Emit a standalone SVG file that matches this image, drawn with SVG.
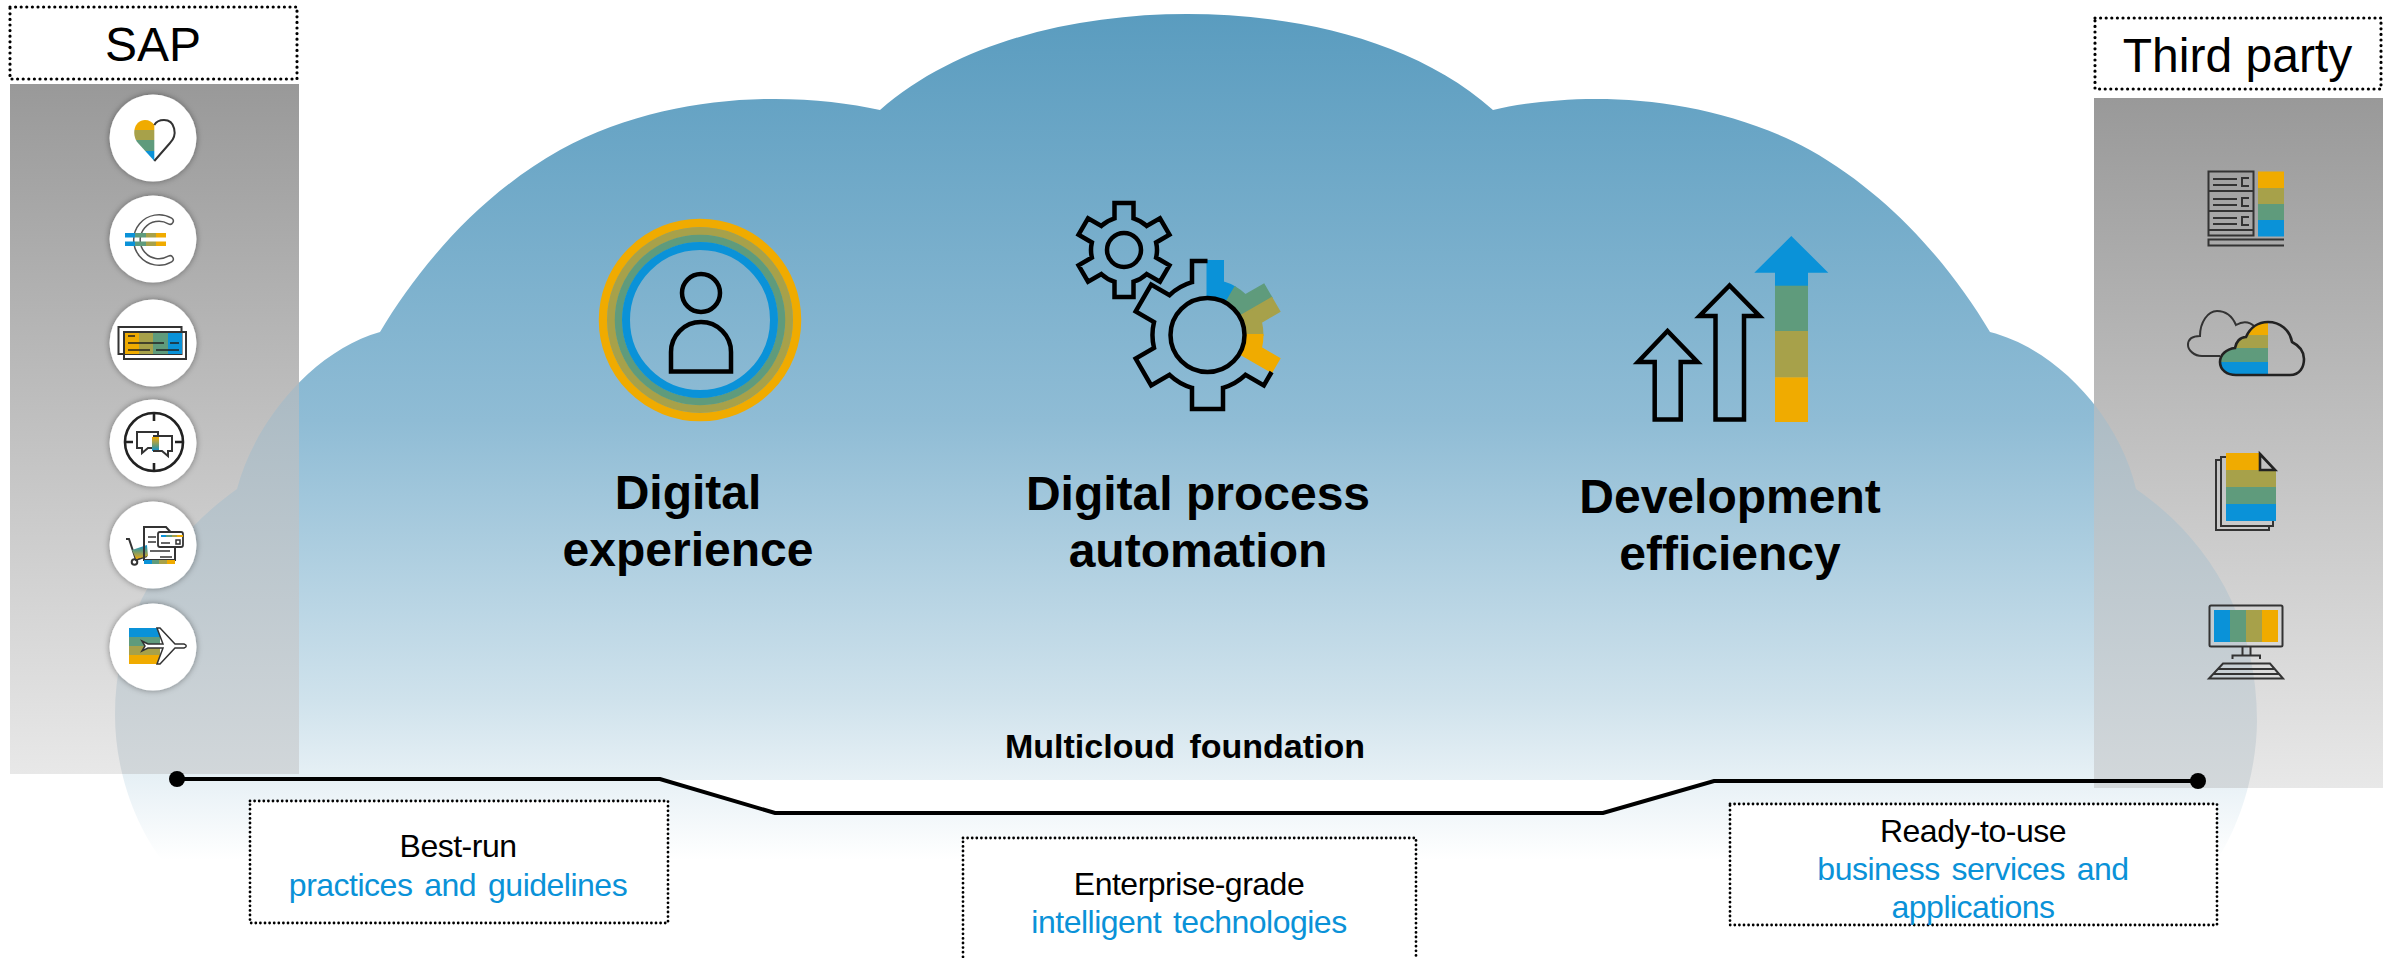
<svg xmlns="http://www.w3.org/2000/svg" width="2396" height="958" viewBox="0 0 2396 958">
<style>
text{font-family:"Liberation Sans",Arial,sans-serif;text-anchor:middle}
.head{font-size:48px;font-weight:700;fill:#000}
.title{font-size:48px;fill:#000}
.lbl{font-size:32px;fill:#000;letter-spacing:-.5px}
.blue{font-size:32px;fill:#0a92d8;letter-spacing:-.5px;word-spacing:3.5px}
.dot{fill:#fff;stroke:#000;stroke-width:3.2;stroke-linecap:round;stroke-dasharray:0 5.6}
.dot2{fill:#fff;stroke:#000;stroke-width:2.8;stroke-linecap:round;stroke-dasharray:0 4.6}
.ic{fill:none;stroke:#000;stroke-width:4.5}
.th{fill:none;stroke:#333;stroke-width:2}
.th3{fill:none;stroke:#222;stroke-width:2.6}
.disc{fill:#fff;filter:url(#sh)}
</style>
<defs>
<linearGradient id="cg" gradientUnits="userSpaceOnUse" x1="0" y1="14" x2="0" y2="860"><stop offset="0" stop-color="#5a9cbf"/><stop offset=".48" stop-color="#8fbcd5"/><stop offset=".81" stop-color="#cfe2ec"/><stop offset="1" stop-color="#fff"/></linearGradient>
<linearGradient id="pl" gradientUnits="userSpaceOnUse" x1="0" y1="84" x2="0" y2="774"><stop offset="0" stop-color="#999"/><stop offset="1" stop-color="#e8e8e8"/></linearGradient>
<linearGradient id="pr" gradientUnits="userSpaceOnUse" x1="0" y1="98" x2="0" y2="788"><stop offset="0" stop-color="#999"/><stop offset="1" stop-color="#e8e8e8"/></linearGradient>
<linearGradient id="ov" gradientUnits="userSpaceOnUse" x1="0" y1="330" x2="0" y2="790"><stop offset="0" stop-color="#a5b6c0"/><stop offset="1" stop-color="#d3d8db"/></linearGradient>
<linearGradient id="yb"  x1="0" y1="0" x2="0" y2="1"><stop offset=".25" stop-color="#f0ab00"/><stop offset=".25" stop-color="#a7a14a"/><stop offset=".5" stop-color="#a7a14a"/><stop offset=".5" stop-color="#5f9b7c"/><stop offset=".75" stop-color="#5f9b7c"/><stop offset=".75" stop-color="#0a92d8"/></linearGradient>
<linearGradient id="by"  x1="0" y1="0" x2="0" y2="1"><stop offset=".25" stop-color="#0a92d8"/><stop offset=".25" stop-color="#5f9b7c"/><stop offset=".5" stop-color="#5f9b7c"/><stop offset=".5" stop-color="#a7a14a"/><stop offset=".75" stop-color="#a7a14a"/><stop offset=".75" stop-color="#f0ab00"/></linearGradient>
<linearGradient id="hby" x1="0" y1="0" x2="1" y2="0"><stop offset=".25" stop-color="#0a92d8"/><stop offset=".25" stop-color="#5f9b7c"/><stop offset=".5" stop-color="#5f9b7c"/><stop offset=".5" stop-color="#a7a14a"/><stop offset=".75" stop-color="#a7a14a"/><stop offset=".75" stop-color="#f0ab00"/></linearGradient>
<linearGradient id="hyb" x1="0" y1="0" x2="1" y2="0"><stop offset=".25" stop-color="#f0ab00"/><stop offset=".25" stop-color="#a7a14a"/><stop offset=".5" stop-color="#a7a14a"/><stop offset=".5" stop-color="#5f9b7c"/><stop offset=".75" stop-color="#5f9b7c"/><stop offset=".75" stop-color="#0a92d8"/></linearGradient>
<linearGradient id="sm" x1="0" y1="0" x2="0" y2="1"><stop offset="0" stop-color="#f0ab00"/><stop offset=".35" stop-color="#a7a14a"/><stop offset=".65" stop-color="#5f9b7c"/><stop offset="1" stop-color="#0a92d8"/></linearGradient>
<linearGradient id="smr" x1="0" y1="0" x2="0" y2="1"><stop offset="0" stop-color="#0a92d8"/><stop offset=".4" stop-color="#5f9b7c"/><stop offset=".7" stop-color="#a7a14a"/><stop offset="1" stop-color="#f0ab00"/></linearGradient>
<filter id="sh" x="-20%" y="-20%" width="140%" height="140%"><feDropShadow dx="0" dy="0" stdDeviation="3" flood-color="#000" flood-opacity=".4"/></filter>
<path id="cloudp" d="M880,110 C960,40 1080,14 1187,14 C1295,14 1415,40 1493,110 C1570,92 1700,90 1810,150 C1890,195 1950,265 1990,332 C2060,350 2120,420 2136,489 C2210,540 2257,620 2257,720 C2257,770 2240,830 2210,870 H170 C135,830 115,770 115,715 C115,620 165,540 237,489 C255,420 315,350 380,332 C420,265 480,195 560,150 C670,90 800,92 880,110 Z"/>
<clipPath id="panels"><rect x="10" y="84" width="289" height="690"/><rect x="2094" y="98" width="289" height="690"/></clipPath>
</defs>

<rect width="2396" height="958" fill="#fff"/>
<g id="cloud"><use href="#cloudp" fill="url(#cg)"/><polygon points="660,780 1714,780 1603,813 775,813" fill="#fff"/></g>

<g id="panel-sap"><rect x="10" y="84" width="289" height="690" fill="url(#pl)"/></g>
<g id="panel-third"><rect x="2094" y="98" width="289" height="690" fill="url(#pr)"/></g>
<g id="cloud-overlap" clip-path="url(#panels)"><use href="#cloudp" fill="url(#ov)"/></g>

<g id="sap-label"><rect class="dot" x="10" y="7" width="287" height="72"/><text class="title" x="153" y="61">SAP</text></g>
<g id="third-label"><rect class="dot" x="2095" y="18" width="286" height="71"/><text class="title" x="2237.500" y="72">Third party</text></g>

<g id="sap-icon-1"><circle class="disc" cx="153" cy="138" r="43.5"/>
<path d="M154.3,161 L138,143 C131,135 134,120 145,120 C149,120 152.5,122 154.3,125 Z" fill="url(#yb)"/>
<path class="th" d="M154.3,161 L170,143 C178,135 175,120 164,120 C160,120 156,122 154.3,125"/></g>

<g id="sap-icon-2"><circle class="disc" cx="153" cy="239" r="43.5"/>
<path d="M170,221 A22 22 0 1 0 170,259" fill="none" stroke="#555" stroke-width="8" stroke-linecap="round"/>
<path d="M170,221 A22 22 0 1 0 170,259" fill="none" stroke="#fff" stroke-width="5" stroke-linecap="round"/>
<rect x="125" y="233" width="41" height="4.5" fill="url(#hby)"/><rect x="125" y="241.500" width="41" height="4.5" fill="url(#hby)"/></g>

<g id="sap-icon-3"><circle class="disc" cx="153" cy="343" r="43.500"/>
<rect class="th" x="118.500" y="327" width="63" height="27"/>
<rect x="125" y="332" width="57" height="22" fill="url(#hyb)"/>
<rect class="th" x="124" y="332" width="62" height="27"/>
<path d="M128,336 H135 M128,343 H164 M170,343 H179 M128,350 H150 M156,350 H179" stroke="#222" stroke-width="1.500" fill="none"/></g>

<g id="sap-icon-4"><circle class="disc" cx="153" cy="443" r="43.500"/>
<circle class="th3" cx="154" cy="442" r="29"/>
<path class="th3" d="M154,413 V421 M154,463 V471 M125,442 H133 M175,442 H183"/>
<path class="th" d="M137,432 H158 V448 H148 L142,453 V448 H137 Z"/>
<rect x="152" y="437" width="7" height="14" fill="url(#sm)"/>
<path class="th" d="M153,436 H172 V451 H168 V456 L162,451 H153"/></g>

<g id="sap-icon-5"><circle class="disc" cx="153" cy="545" r="43.500"/>
<path class="th" d="M126,539 H129 L136,560 L147,556"/><circle class="th" cx="134.500" cy="562" r="2.800"/>
<polygon points="132,551 147,546 148,557 136,560" fill="url(#smr)" transform="translate(0,-1)"/>
<path class="th" d="M144,527 H166 L175,537 V560 H144 Z"/>
<path d="M148,537 H156 M148,542 H156 M150,551 H170 M160,557 H172" stroke="#333" stroke-width="1.500"/>
<rect x="144" y="560" width="31" height="4" fill="url(#hby)"/>
<rect x="158" y="532" width="25" height="15" rx="2" fill="#fff" stroke="#333" stroke-width="1.800"/>
<rect x="161" y="535" width="22" height="2" fill="url(#hby)"/><path d="M161,543 H170" stroke="#333" stroke-width="1.500"/><rect x="176" y="540" width="4" height="4" fill="none" stroke="#333" stroke-width="1.500"/></g>

<g id="sap-icon-6"><circle class="disc" cx="153" cy="647" r="43.500"/>
<rect x="129" y="628" width="31" height="36" fill="url(#by)"/>
<path d="M142,641 L148,644 H163 L157,628 H160 L175,644 H184 C187,645 187,647 184,648 H175 L160,664 H157 L163,648 H148 L142,651 L145,646 Z" fill="#fff" stroke="#333" stroke-width="1.500"/></g>

<g id="third-icon-1"><rect class="th" x="2208.500" y="171.500" width="45" height="64"/>
<path class="th" d="M2208,191 H2254 M2208,211 H2254 M2208,230 H2254 M2213,179 H2237 M2213,185 H2237 M2213,199 H2237 M2213,205 H2237 M2213,218 H2237 M2213,224 H2237 M2249,178 H2242 V186 H2249 M2249,198 H2242 V206 H2249 M2249,217 H2242 V225 H2249"/>
<rect x="2258" y="171.500" width="26" height="65" fill="url(#yb)"/>
<path class="th" d="M2284,239.500 H2208.500 V245.500 H2284"/></g>

<g id="third-icon-2">
<path class="th" d="M2220,356 H2202 C2194,356 2188,350 2188,345 C2188,338 2193,336 2200,336 C2200,322 2208,311 2217,311 C2227,311 2233,318 2236,325 C2243,321 2250,322 2255,327"/>
<path d="M2268,322 C2258,322 2250,328 2246,337 C2240,337 2236,342 2235,348 C2226,349 2220,355 2220,362 C2220,370 2227,375 2236,375 H2268 Z" fill="url(#yb)"/>
<path class="th3" d="M2236,375 H2290 C2300,375 2304,367 2304,359 C2304,350 2298,345 2292,342 C2290,330 2280,322 2268,322 C2258,322 2250,328 2246,337 C2240,337 2236,342 2235,348 C2226,349 2220,355 2220,362 C2220,370 2227,375 2236,375 Z"/></g>

<g id="third-icon-3">
<path class="th" d="M2221,460 H2216 V530 H2269 V526"/>
<path class="th" d="M2226,457 H2221 V526 H2273 V521"/>
<polygon points="2226,453 2259,453 2259,470 2276,470 2276,521 2226,521" fill="url(#yb)"/>
<path class="th3" d="M2260,454 L2275,470 H2260 Z" fill="#d0d0d0"/></g>

<g id="third-icon-4"><rect class="th" x="2209.500" y="605.500" width="73" height="41" rx="1.500"/>
<rect x="2214" y="610" width="64" height="32" fill="url(#hby)"/>
<path class="th" d="M2242.500,647 V655 M2250.500,647 V655 M2232.500,659 V655.500 H2260 V659 M2223,663.500 H2270 L2283,678.500 H2209 Z M2218,669 H2275 M2213,674 H2279"/></g>

<g id="digital-experience">
<circle cx="700" cy="320" r="97" fill="none" stroke="#f0ab00" stroke-width="8.500"/>
<circle cx="700" cy="320" r="89" fill="none" stroke="#a7a14a" stroke-width="8"/>
<circle cx="700" cy="320" r="81.500" fill="none" stroke="#5f9b7c" stroke-width="7.500"/>
<circle cx="700" cy="320" r="74" fill="none" stroke="#0a92d8" stroke-width="8"/>
<circle class="ic" cx="701" cy="293" r="19"/>
<path class="ic" d="M671,371.500 V352 A30 30 0 0 1 731,352 V371.500 Z"/>
<text class="head" x="688" y="509">Digital</text><text class="head" x="688" y="566">experience</text></g>

<g id="digital-process-automation">
<path class="ic" transform="translate(1124,250)" d="M-9.500,-31.600 L-9.500,-47 L9.500,-47 L9.500,-31.600 A33 33 0 0 1 22.620,-24.030 L35.950,-31.730 L45.450,-15.270 L32.120,-7.570 A33 33 0 0 1 32.120,7.570 L45.450,15.270 L35.950,31.730 L22.620,24.030 A33 33 0 0 1 9.500,31.600 L9.500,47 L-9.500,47 L-9.500,31.600 A33 33 0 0 1 -22.620,24.030 L-35.950,31.730 L-45.450,15.270 L-32.120,7.570 A33 33 0 0 1 -32.120,-7.570 L-45.450,-15.270 L-35.950,-31.730 L-22.620,-24.030 A33 33 0 0 1 -9.500,-31.600 Z"/>
<circle class="ic" cx="1124" cy="250" r="17"/>
<g transform="translate(1207.500,335)">
<path fill="#0a92d8" stroke="#0a92d8" stroke-width="2" d="M0,-74 L15.500,-74 L15.500,-52.800 A55 55 0 0 1 27.500,-47.630 L18.500,-32.040 A37 37 0 0 0 0,-37 Z"/>
<path fill="#5f9b7c" stroke="#5f9b7c" stroke-width="2" d="M27.500,-47.630 A55 55 0 0 1 37.970,-39.820 L56.340,-50.420 L64.090,-37 L32.040,-18.500 A37 37 0 0 0 18.500,-32.040 Z"/>
<path fill="#a7a14a" stroke="#a7a14a" stroke-width="2" d="M64.090,-37 L71.840,-23.580 L53.470,-12.980 A55 55 0 0 1 55,0 L37,0 A37 37 0 0 0 32.040,-18.500 Z"/>
<path fill="#f0ab00" stroke="#f0ab00" stroke-width="2" d="M55,0 A55 55 0 0 1 53.470,12.980 L71.840,23.580 L64.090,37 L32.040,18.500 A37 37 0 0 0 37,0 Z"/>
<path class="ic" d="M0,-74 L-15.500,-74 L-15.500,-52.800 A55 55 0 0 0 -37.970,-39.820 L-56.340,-50.420 L-71.840,-23.580 L-53.470,-12.980 A55 55 0 0 0 -53.470,12.980 L-71.840,23.580 L-56.340,50.420 L-37.970,39.820 A55 55 0 0 0 -15.500,52.800 L-15.500,74 L15.500,74 L15.500,52.800 A55 55 0 0 0 37.970,39.820 L56.340,50.420 L64.090,37"/>
<circle class="ic" r="37"/></g>
<text class="head" x="1198" y="510">Digital process</text><text class="head" x="1198" y="567">automation</text></g>

<g id="development-efficiency">
<polygon class="ic" points="1667.500,331 1638,362 1654.700,362 1654.700,419.500 1680.700,419.500 1680.700,362 1697.500,362"/>
<polygon class="ic" points="1729.500,285.500 1699.500,316 1715.500,316 1715.500,419.500 1744,419.500 1744,316 1759.500,316"/>
<polygon points="1791.300,236 1754.300,272.700 1775,272.700 1775,286 1808,286 1808,272.700 1828.300,272.700" fill="#0a92d8"/>
<rect x="1775" y="285.700" width="33" height="45.500" fill="#5f9b7c"/><rect x="1775" y="331" width="33" height="46.500" fill="#a7a14a"/><rect x="1775" y="377.300" width="33" height="44.700" fill="#f0ab00"/>
<text class="head" x="1730" y="513">Development</text><text class="head" x="1730" y="570">efficiency</text></g>

<text id="multicloud" x="1185" y="758" font-size="34" font-weight="700" word-spacing="5">Multicloud foundation</text>

<g id="connectors">
<path d="M177,779 H660 L775,813 H1603 L1714,781 H2198" fill="none" stroke="#000" stroke-width="4"/>
<circle cx="177" cy="779" r="8"/><circle cx="2198" cy="781" r="8"/></g>

<g id="best-run"><rect class="dot2" x="250" y="801" width="418" height="122"/>
<text class="lbl" x="458" y="857">Best-run</text><text class="blue" x="458" y="896">practices and guidelines</text></g>
<g id="enterprise-grade"><rect class="dot2" x="963" y="838" width="453" height="140"/>
<text class="lbl" x="1189" y="895">Enterprise-grade</text><text class="blue" x="1189" y="933">intelligent technologies</text></g>
<g id="ready-to-use"><rect class="dot2" x="1730" y="804" width="487" height="121"/>
<text class="lbl" x="1973" y="842">Ready-to-use</text><text class="blue" x="1973" y="880">business services and</text><text class="blue" x="1973" y="918">applications</text></g>
</svg>
